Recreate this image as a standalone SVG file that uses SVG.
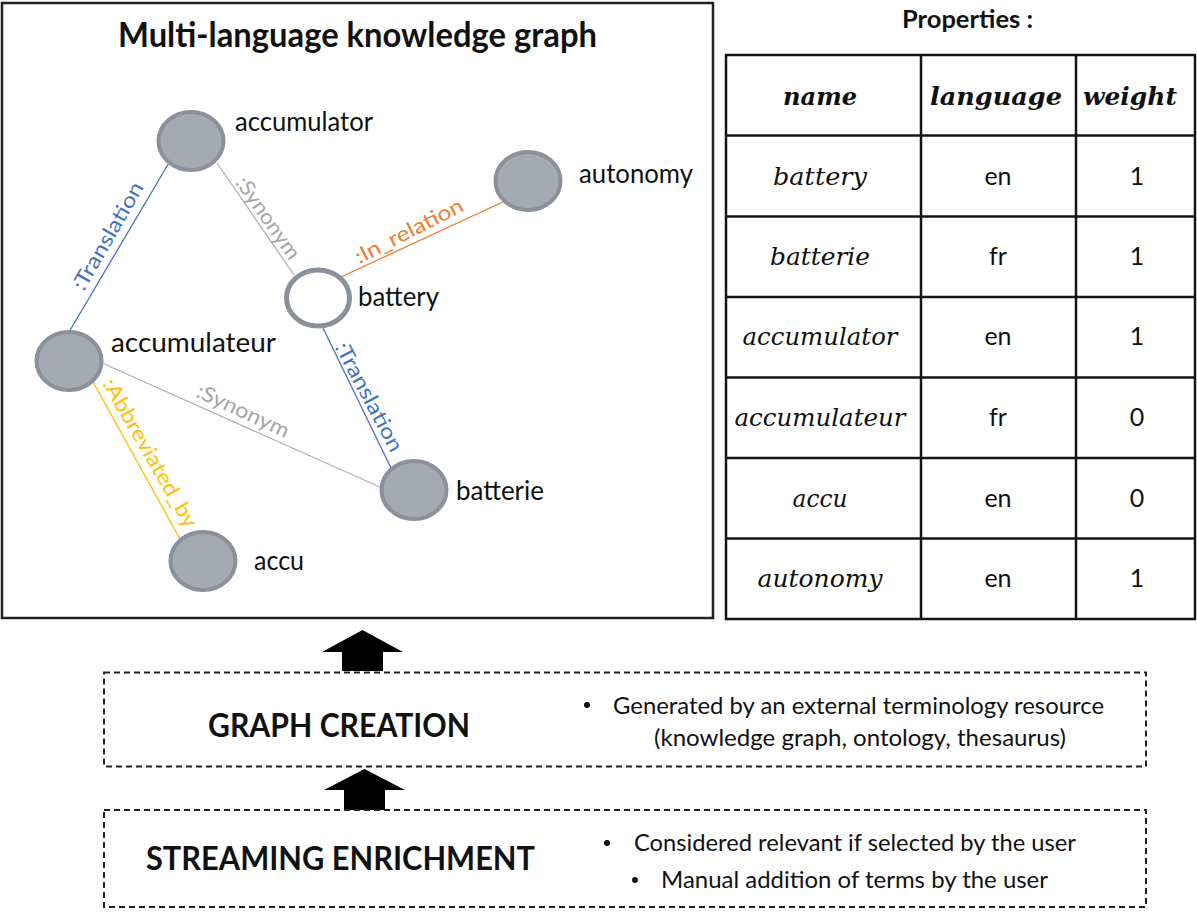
<svg xmlns="http://www.w3.org/2000/svg" width="1197" height="912" viewBox="0 0 1197 912">
<defs>
<style>
.sans{font-family:Lato,"Open Sans","Liberation Sans",sans-serif;fill:#111}
.bold{font-weight:bold}
.node{fill:#a4a9b2;stroke:#8b919b;stroke-width:4}
.nodew{fill:#fff;stroke:#8b919b;stroke-width:5}
.lbl{font-family:Lato,"Open Sans","Liberation Sans",sans-serif;font-size:26px;fill:#111}
.elbl{font-family:Lato,"Open Sans","Liberation Sans",sans-serif;font-size:21px;text-anchor:middle}
.edge{stroke-width:1.3;fill:none}
.blue{stroke:#4472c4}.tblue{fill:#4472c4}
.gray{stroke:#b0b0b0}.tgray{fill:#a6a6a6}
.orange{stroke:#ed7d31}.torange{fill:#ed7d31}
.yellow{stroke:#ffc000}.tyellow{fill:#ffc000}
.grid{stroke:#151515;stroke-width:2.5;fill:none}
.hdr{font-family:"DejaVu Serif","Liberation Serif",serif;font-style:italic;font-weight:bold;font-size:25px;text-anchor:middle;fill:#111}
.cell{font-family:"DejaVu Serif","Liberation Serif",serif;font-style:italic;font-size:24px;text-anchor:middle;fill:#111}
.val{font-family:Lato,"Open Sans","Liberation Sans",sans-serif;font-size:25px;text-anchor:middle;fill:#111}
.dash{fill:none;stroke:#222;stroke-width:2;stroke-dasharray:6 4}
.arrow{fill:#000}
.btxt{font-family:Lato,"Open Sans","Liberation Sans",sans-serif;font-size:24px;fill:#111}
</style>
</defs>
<rect x="0" y="0" width="1197" height="912" fill="#fff"/>

<!-- Left frame -->
<g id="graph-frame">
<rect x="2" y="3" width="711" height="615" fill="none" stroke="#222" stroke-width="2.5"/>
<text class="sans bold" x="118" y="47" font-size="34" textLength="479" lengthAdjust="spacingAndGlyphs">Multi-language knowledge graph</text>
</g>

<!-- Connectors -->
<g id="connectors">
<line class="edge blue" x1="170" y1="161" x2="69" y2="332"/>
<line class="edge gray" x1="217" y1="163" x2="294" y2="275"/>
<line class="edge orange" x1="341" y1="277" x2="507" y2="200"/>
<line class="edge blue" x1="323" y1="328" x2="391" y2="468"/>
<line class="edge gray" x1="102" y1="363" x2="382" y2="488"/>
<line class="edge yellow" x1="92" y1="380" x2="180" y2="539"/>
<text class="elbl tblue" transform="translate(108,236) rotate(-60)" y="7" textLength="121" lengthAdjust="spacingAndGlyphs">:Translation</text>
<text class="elbl tgray" transform="translate(268,218) rotate(55)" y="7" textLength="96" lengthAdjust="spacingAndGlyphs">:Synonym</text>
<text class="elbl torange" transform="translate(409,231) rotate(-27)" y="7" textLength="119" lengthAdjust="spacingAndGlyphs">:In_relation</text>
<text class="elbl tblue" transform="translate(369,397) rotate(62)" y="7" textLength="121" lengthAdjust="spacingAndGlyphs">:Translation</text>
<text class="elbl tgray" transform="translate(243,411) rotate(25)" y="7" textLength="100" lengthAdjust="spacingAndGlyphs">:Synonym</text>
<text class="elbl tyellow" transform="translate(150,453) rotate(60)" y="7" textLength="168" lengthAdjust="spacingAndGlyphs">:Abbreviated_by</text>
</g>

<!-- Nodes -->
<g id="node-accumulator">
<ellipse class="node" cx="191" cy="141" rx="32.5" ry="29"/>
<text class="lbl" x="235" y="131" textLength="138" lengthAdjust="spacingAndGlyphs">accumulator</text>
</g>
<g id="node-autonomy">
<ellipse class="node" cx="528" cy="181" rx="32.5" ry="29"/>
<text class="lbl" x="579" y="183" textLength="114" lengthAdjust="spacingAndGlyphs">autonomy</text>
</g>
<g id="node-battery">
<ellipse class="nodew" cx="318" cy="298" rx="31.5" ry="28"/>
<text class="lbl" x="358" y="306" textLength="81" lengthAdjust="spacingAndGlyphs">battery</text>
</g>
<g id="node-accumulateur">
<ellipse class="node" cx="69" cy="361" rx="32.5" ry="29"/>
<text class="lbl" x="111" y="352" textLength="165" lengthAdjust="spacingAndGlyphs">accumulateur</text>
</g>
<g id="node-batterie">
<ellipse class="node" cx="414" cy="490" rx="32.5" ry="29"/>
<text class="lbl" x="456" y="500" textLength="88" lengthAdjust="spacingAndGlyphs">batterie</text>
</g>
<g id="node-accu">
<ellipse class="node" cx="203" cy="561" rx="32.5" ry="29"/>
<text class="lbl" x="254" y="570" textLength="50" lengthAdjust="spacingAndGlyphs">accu</text>
</g>

<!-- Properties table -->
<g id="properties-table">
<text class="sans bold" x="902" y="28" font-size="24" textLength="131" lengthAdjust="spacingAndGlyphs">Properties :</text>
<rect class="grid" x="726" y="55" width="469" height="564"/>
<line class="grid" x1="921" y1="55" x2="921" y2="619"/>
<line class="grid" x1="1076" y1="55" x2="1076" y2="619"/>
<line class="grid" x1="726" y1="135.5" x2="1195" y2="135.5"/>
<line class="grid" x1="726" y1="216.5" x2="1195" y2="216.5"/>
<line class="grid" x1="726" y1="297" x2="1195" y2="297"/>
<line class="grid" x1="726" y1="377.5" x2="1195" y2="377.5"/>
<line class="grid" x1="726" y1="458" x2="1195" y2="458"/>
<line class="grid" x1="726" y1="538.5" x2="1195" y2="538.5"/>
<text class="hdr" x="820" y="105" textLength="74" lengthAdjust="spacingAndGlyphs">name</text>
<text class="hdr" x="996" y="105" textLength="132" lengthAdjust="spacingAndGlyphs">language</text>
<text class="hdr" x="1130" y="105" textLength="94" lengthAdjust="spacingAndGlyphs">weight</text>
<text class="cell" x="820" y="185" textLength="94" lengthAdjust="spacingAndGlyphs">battery</text>
<text class="val" x="998" y="185">en</text>
<text class="val" x="1137" y="185">1</text>
<text class="cell" x="820" y="265" textLength="100" lengthAdjust="spacingAndGlyphs">batterie</text>
<text class="val" x="998" y="265">fr</text>
<text class="val" x="1137" y="265">1</text>
<text class="cell" x="820" y="345" textLength="155" lengthAdjust="spacingAndGlyphs">accumulator</text>
<text class="val" x="998" y="345">en</text>
<text class="val" x="1137" y="345">1</text>
<text class="cell" x="820" y="426" textLength="171" lengthAdjust="spacingAndGlyphs">accumulateur</text>
<text class="val" x="998" y="426">fr</text>
<text class="val" x="1137" y="426">0</text>
<text class="cell" x="820" y="507" textLength="55" lengthAdjust="spacingAndGlyphs">accu</text>
<text class="val" x="998" y="507">en</text>
<text class="val" x="1137" y="507">0</text>
<text class="cell" x="820" y="587" textLength="125" lengthAdjust="spacingAndGlyphs">autonomy</text>
<text class="val" x="998" y="587">en</text>
<text class="val" x="1137" y="587">1</text>
</g>

<!-- Arrows -->
<g id="arrows">
<polygon class="arrow" points="342,671 342,652 322,652 362.5,630 403,652 383,652 383,671"/>
<polygon class="arrow" points="344,810 344,790 324,790 364.5,769 405,790 385,790 385,810"/>
</g>

<!-- Graph creation -->
<g id="graph-creation">
<rect class="dash" x="104" y="672.5" width="1042" height="94"/>
<text class="sans bold" x="208" y="737" font-size="32" textLength="262" lengthAdjust="spacingAndGlyphs">GRAPH CREATION</text>
<circle cx="587" cy="705" r="3" fill="#111"/>
<text class="btxt" x="613" y="714" textLength="491" lengthAdjust="spacingAndGlyphs">Generated by an external terminology resource</text>
<text class="btxt" x="654" y="746" textLength="412" lengthAdjust="spacingAndGlyphs">(knowledge graph, ontology, thesaurus)</text>
</g>

<!-- Streaming enrichment -->
<g id="streaming-enrichment">
<rect class="dash" x="104" y="810" width="1042" height="97"/>
<text class="sans bold" x="146" y="870" font-size="32" textLength="389" lengthAdjust="spacingAndGlyphs">STREAMING ENRICHMENT</text>
<circle cx="607" cy="843" r="3" fill="#111"/>
<text class="btxt" x="634" y="851" textLength="442" lengthAdjust="spacingAndGlyphs">Considered relevant if selected by the user</text>
<circle cx="635" cy="880" r="3" fill="#111"/>
<text class="btxt" x="661" y="888" textLength="387" lengthAdjust="spacingAndGlyphs">Manual addition of terms by the user</text>
</g>
</svg>
